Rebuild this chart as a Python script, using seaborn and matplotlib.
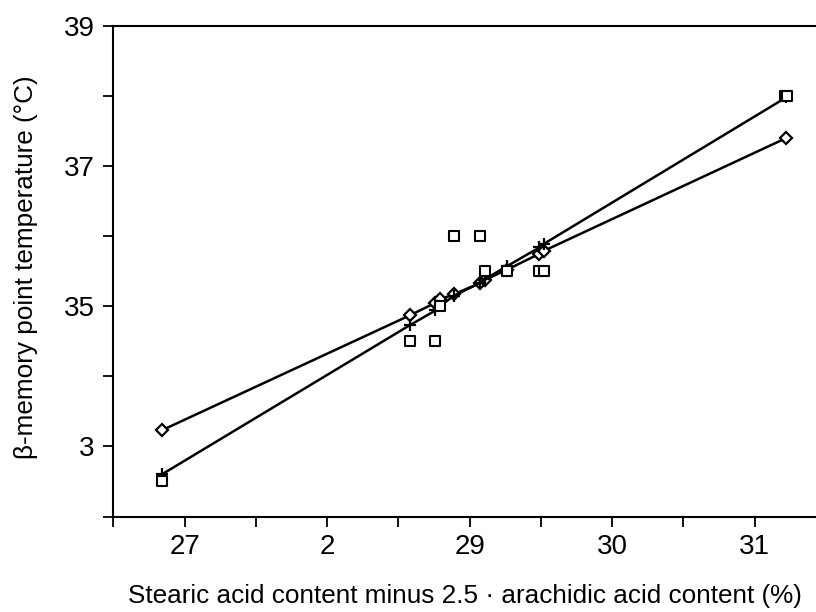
import matplotlib
matplotlib.use("Agg")
import matplotlib.pyplot as plt
import seaborn as sns
import pandas as pd

# sample x values (stearic minus 2.5*arachidic, %)
sample_x = [26.84, 28.58, 28.76, 28.79, 28.89, 29.07, 29.11, 29.26, 29.49, 29.52, 31.22]
# predicted temperatures, model 1 (diamonds)
pred_diamond = [33.23, 34.87, 35.05, 35.10, 35.17, 35.33, 35.38, 35.52, 35.75, 35.79, 37.40]
# predicted temperatures, model 2 (plus)
pred_plus = [32.60, 34.73, 34.94, 35.00, 35.15, 35.33, 35.39, 35.57, 35.84, 35.89, 37.98]
# observed temperatures (squares)
obs_x = [26.84, 28.58, 28.76, 28.79, 28.89, 29.07, 29.11, 29.26, 29.49, 29.52, 31.21, 31.23]
obs_y = [32.5, 34.5, 34.5, 35.0, 36.0, 36.0, 35.5, 35.5, 35.5, 35.5, 38.0, 38.0]

x_ticks = [26.5, 27, 27.5, 28, 28.5, 29, 29.5, 30, 30.5, 31]
x_labels = ["", "27", "", "2", "", "29", "", "30", "", "31"]
y_ticks = [32, 33, 34, 35, 36, 37, 38, 39]
y_labels = ["", "3", "", "35", "", "37", "", "39"]

sns.set_style("ticks")
plt.rcParams["font.family"] = ["Liberation Sans", "DejaVu Sans"]

fig = plt.figure(figsize=(8.16, 6.12), dpi=100)
ax = fig.add_axes([113.3 / 816, 1 - 516.5 / 612, 1 - 113.3 / 816, (516.5 - 26) / 612])

df1 = pd.DataFrame({"x": sample_x, "y": pred_diamond})
df2 = pd.DataFrame({"x": sample_x, "y": pred_plus})
dfo = pd.DataFrame({"x": obs_x, "y": obs_y})

sns.lineplot(data=df1, x="x", y="y", ax=ax, color="black", linewidth=1.8,
             marker="D", markersize=6, markerfacecolor="white",
             markeredgecolor="black", markeredgewidth=1.6, estimator=None, sort=True)
sns.lineplot(data=df2, x="x", y="y", ax=ax, color="black", linewidth=1.8,
             marker="+", markersize=9, markeredgecolor="black",
             markeredgewidth=1.6, estimator=None, sort=True)
sns.scatterplot(data=dfo, x="x", y="y", ax=ax, marker="s", s=60,
                facecolor="white", edgecolor="black", linewidth=1.5, zorder=3)

ax.set_xlim(26.5, 31.43)
ax.set_ylim(32, 39)
ax.set_xticks(x_ticks)
ax.set_xticklabels(x_labels)
ax.set_yticks(y_ticks)
ax.set_yticklabels(y_labels)
ax.tick_params(axis="both", which="major", direction="out", length=7.5, width=1.3,
               labelsize=20, color="black", labelcolor="black")
ax.tick_params(axis="x", pad=5)
ax.tick_params(axis="y", pad=6)

for s in ["left", "bottom", "top"]:
    ax.spines[s].set_visible(True)
    ax.spines[s].set_color("black")
    ax.spines[s].set_linewidth(1.5)
ax.spines["right"].set_visible(False)

ax.set_xlabel("")
ax.set_ylabel("")
fig.text(465 / 816, 1 - 603 / 612,
         "Stearic acid content minus 2.5 · arachidic acid content (%)",
         fontsize=18.8, color="black", ha="center", va="baseline")
fig.text(26 / 816, 1 - 267 / 612, "β-memory point temperature (°C)",
         fontsize=18.8, color="black", ha="center", va="center", rotation=90)

fig.savefig("out.png", dpi=100)
